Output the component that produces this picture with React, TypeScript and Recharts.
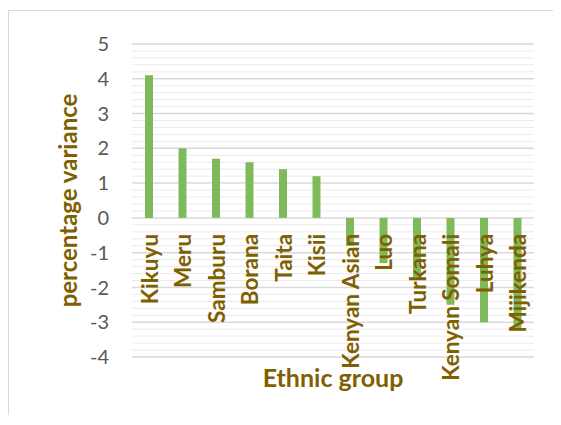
import { BarChart, Bar, XAxis, YAxis, CartesianGrid, LabelList } from "recharts";

const groups = [
  "Kikuyu",
  "Meru",
  "Samburu",
  "Borana",
  "Taita",
  "Kisii",
  "Kenyan Asian",
  "Luo",
  "Turkana",
  "Kenyan Somali",
  "Luhya",
  "Mijikenda",
];
const variance = [4.1, 2.0, 1.7, 1.6, 1.4, 1.2, -0.8, -1.3, -1.7, -2.5, -3.0, -3.2];
const yTicks = [-4, -3, -2, -1, 0, 1, 2, 3, 4, 5];
const Y_MIN = -4;
const Y_MAX = 5;

// light minor gridlines every 0.2 between the majors
const minorTicks: number[] = [];
for (let i = -20; i <= 25; i++) {
  if (i % 5 !== 0) minorTicks.push(i / 5);
}

const data = groups.map((name, i) => ({ name, value: variance[i] }));

const FONT = "Lato, Carlito, Calibri, sans-serif";
const TITLE = "#7F6000";

function minorLines(p: any) {
  const off = p?.offset;
  if (!off || typeof off.top !== "number") return [];
  const sc = p?.yAxis?.scale;
  return minorTicks.map((v) => {
    if (typeof sc === "function") return sc(v);
    if (sc && typeof sc.map === "function") return sc.map(v);
    return off.top + ((Y_MAX - v) / (Y_MAX - Y_MIN)) * off.height;
  });
}

// category names hang just below the zero line, like Excel's axis labels
function GroupLabel(props: any) {
  const { x, y, width, height, value } = props;
  const zeroY = y + height;
  const cx = x + width / 2 + 1;
  const ty = zeroY + 16;
  const fs = 22.5;
  return (
    <text
      x={cx + fs * 0.35}
      y={ty}
      transform={`rotate(-90, ${cx + fs * 0.35}, ${ty})`}
      textAnchor="end"
      fontFamily={FONT}
      fontWeight={700}
      fontSize={fs}
      fill={TITLE}
    >
      {value}
    </text>
  );
}

export default function App() {
  return (
    <div
      style={{
        marginTop: 2,
        width: 544,
        height: 404,
        borderTop: "1px solid #d9d9d9",
        borderLeft: "1px solid #d9d9d9",
        background: "#fff",
      }}
    >
      <BarChart
        width={544}
        height={404}
        data={data}
        margin={{ top: 33, right: 19, left: 0, bottom: 0 }}
        barSize={8}
      >
        <CartesianGrid
          vertical={false}
          horizontalCoordinatesGenerator={minorLines}
          stroke="#ebebeb"
          strokeWidth={1}
        />
        <CartesianGrid vertical={false} stroke="#d9d9d9" strokeWidth={1.5} />
        <XAxis
          dataKey="name"
          tick={false}
          tickLine={false}
          axisLine={false}
          height={58}
          label={{
            content: ({ viewBox }: any) => (
              <text
                x={viewBox.x + viewBox.width / 2}
                y={viewBox.y + 30}
                textAnchor="middle"
                fontFamily={FONT}
                fontWeight={700}
                fontSize={25}
                fill={TITLE}
              >
                Ethnic group
              </text>
            ),
          }}
        />
        <YAxis
          domain={[Y_MIN, Y_MAX]}
          ticks={yTicks}
          interval={0}
          width={123}
          tickLine={false}
          axisLine={false}
          tickSize={0}
          tickMargin={23}
          tick={{ fill: "#595959", fontSize: 20, fontFamily: FONT }}
          label={{
            content: ({ viewBox }: any) => {
              const cx = 68;
              const cy = viewBox.y + viewBox.height / 2;
              return (
                <text
                  x={cx}
                  y={cy}
                  transform={`rotate(-90, ${cx}, ${cy})`}
                  textAnchor="middle"
                  fontFamily={FONT}
                  fontWeight={700}
                  fontSize={24}
                  fill={TITLE}
                >
                  percentage variance
                </text>
              );
            },
          }}
        />
        <Bar dataKey="value" fill="#7fba5a" isAnimationActive={false}>
          <LabelList dataKey="name" content={<GroupLabel />} />
        </Bar>
      </BarChart>
    </div>
  );
}
